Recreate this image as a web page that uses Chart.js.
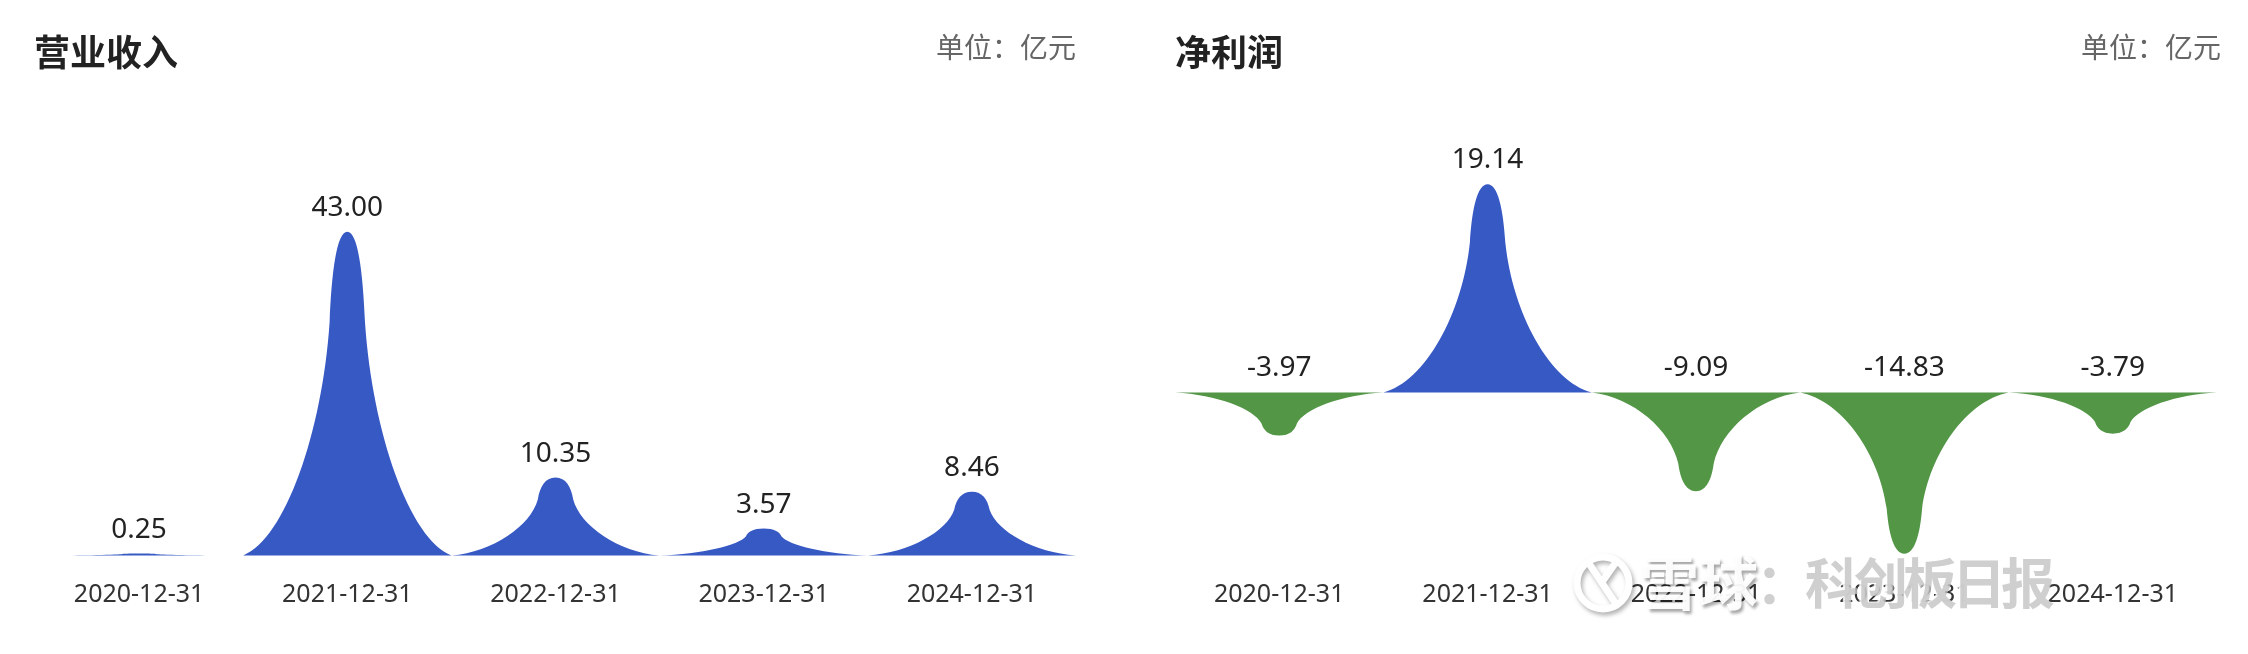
<!DOCTYPE html>
<html lang="zh-CN">
<head>
<meta charset="UTF-8">
<title>营业收入 / 净利润</title>
<script src="https://cdn.jsdelivr.net/npm/chart.js"></script>
<style>
  body {
    margin: 0;
    background: #fff;
    width: 2248px;
    height: 654px;
    position: relative;
    overflow: hidden;
    font-family: "Noto Sans CJK SC", "Noto Sans", sans-serif;
  }
  .panel { position: absolute; top: 0; width: 1124px; height: 654px; }
  .panel canvas { position: absolute; left: 0; top: 0; }
  .title {
    position: absolute; top: 32px;
    font-size: 36px; font-weight: bold; color: #222; line-height: 1;
  }
  .unit {
    position: absolute; top: 32px;
    font-size: 28px; color: #666; line-height: 1; white-space: nowrap;
  }
  #mark { position: absolute; left: 1572px; top: 546px; z-index: 5; white-space: nowrap; line-height: 1; font-weight: bold; }
  #mark svg { position: absolute; left: 0; top: 2px; filter: drop-shadow(2px 3px 2px rgba(0,0,0,0.3)); }
  #mark .a {
    position: absolute; left: 68px; top: 4px; font-size: 59px;
    color: rgba(255,255,255,0.95); text-shadow: 2px 3px 3px rgba(0,0,0,0.35);
  }
  #mark .b {
    position: absolute; left: 184px; top: 8px; font-size: 54px; letter-spacing: -5px;
    color: rgba(195,195,195,0.8); text-shadow: -2px -1px 1px rgba(255,255,255,0.9);
  }
</style>
</head>
<body>
  <div class="panel" style="left:0">
    <canvas id="revenueChart" width="1124" height="654"></canvas>
    <div class="title" style="left:34px">营业收入</div>
    <div class="unit" style="right:48px">单位：亿元</div>
  </div>
  <div class="panel" style="left:1124px">
    <canvas id="profitChart" width="1124" height="654"></canvas>
    <div class="title" style="left:51px">净利润</div>
    <div class="unit" style="right:27px">单位：亿元</div>
  </div>
  <div id="mark">
    <svg width="62" height="70" viewBox="0 0 62 70">
      <circle cx="31" cy="35" r="26" fill="none" stroke="#fff" stroke-width="7"/>
      <path d="M16 14 L44 56 M44 14 L30 34" stroke="#fff" stroke-width="7" fill="none"/>
    </svg>
    <span class="a">雪球</span>
    <span class="b">：科创板日报</span>
  </div>

<script>
  const periods = ["2020-12-31", "2021-12-31", "2022-12-31", "2023-12-31", "2024-12-31"];
  const revenue = [0.25, 43.00, 10.35, 3.57, 8.46];
  const netProfit = [-3.97, 19.14, -9.09, -14.83, -3.79];

  const BLUE = "#3759c4";
  const GREEN = "#529646";

  // spike outline, half width = 1, value height = 1 (u across, v up from base)
  const SPIKE = [
    [[-0.60, 0.05], [-0.24, 0.38], [-0.17, 0.72]],
    [[-0.15, 0.88], [-0.10, 1.00], [0.00, 1.00]],
    [[0.10, 1.00], [0.15, 0.88], [0.17, 0.72]],
    [[0.24, 0.38], [0.60, 0.05], [1.00, 0.00]]
  ];

  const spikeBars = {
    id: "spikeBars",
    beforeDatasetDraw(chart, args) {
      const ctx = chart.ctx;
      args.meta.data.forEach(bar => {
        const p = bar.getProps(["x", "y", "base", "width"], true);
        const hw = p.width / 2;
        const pt = (u, v) => [p.x + u * hw, p.base + v * (p.y - p.base)];
        ctx.save();
        ctx.fillStyle = bar.options.backgroundColor;
        ctx.beginPath();
        ctx.moveTo(...pt(-1, 0));
        SPIKE.forEach(seg => {
          ctx.bezierCurveTo(...pt(...seg[0]), ...pt(...seg[1]), ...pt(...seg[2]));
        });
        ctx.closePath();
        ctx.fill();
        ctx.restore();
      });
      return false;
    },
    afterDatasetsDraw(chart) {
      const ctx = chart.ctx;
      const values = chart.data.datasets[0].data;
      chart.getDatasetMeta(0).data.forEach((bar, i) => {
        const p = bar.getProps(["x", "y", "base"], true);
        ctx.save();
        ctx.font = '28px "Noto Sans"';
        ctx.fillStyle = "#222";
        ctx.textAlign = "center";
        ctx.textBaseline = "alphabetic";
        ctx.fillText(values[i].toFixed(2), p.x, Math.min(p.y, p.base) - 16);
        ctx.restore();
      });
    }
  };

  function makeChart(id, values, yMin, yMax, pad) {
    return new Chart(document.getElementById(id), {
      type: "bar",
      data: {
        labels: periods,
        datasets: [{
          data: values,
          backgroundColor: c => (c.raw >= 0 ? BLUE : GREEN),
          categoryPercentage: 1,
          barPercentage: 1
        }]
      },
      options: {
        responsive: false,
        animation: false,
        layout: { padding: pad },
        plugins: {
          legend: { display: false },
          tooltip: { enabled: false }
        },
        scales: {
          x: {
            grid: { display: false, drawTicks: false },
            border: { display: false },
            ticks: {
              color: "#333",
              font: { family: '"Noto Sans"', size: 25 },
              padding: 24,
              maxRotation: 0,
              autoSkip: false
            }
          },
          y: { display: false, min: yMin, max: yMax }
        }
      },
      plugins: [spikeBars]
    });
  }

  makeChart("revenueChart", revenue, 0, 50, { left: 35, right: 48, top: 179, bottom: 20.5 });
  makeChart("profitChart", netProfit, -15, 20, { left: 51, right: 31, top: 175, bottom: 20.5 });
</script>
</body>
</html>
